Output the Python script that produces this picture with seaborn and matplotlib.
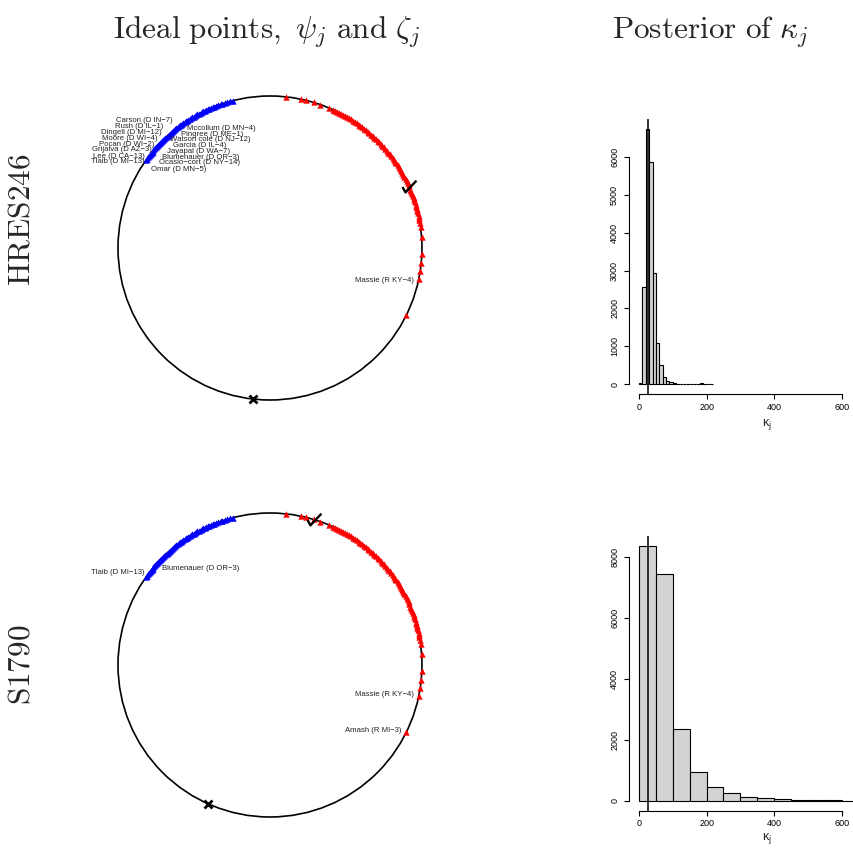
import numpy as np
import pandas as pd
import matplotlib
matplotlib.use("Agg")
import matplotlib.pyplot as plt
from matplotlib.path import Path
from matplotlib.patches import Circle
import seaborn as sns

# ---------------- data ----------------
# ideal point angles (degrees) on the unit circle
dem_angles = [104.0, 105.2, 106.5, 107.3, 108.4, 109.0, 110.1, 110.8, 111.5, 112.2,
              112.9, 113.5, 114.1, 114.8, 115.4, 116.0, 116.6, 117.2, 117.9, 118.5,
              119.0, 119.6, 120.2, 120.8, 121.3, 121.9, 122.5, 123.0, 123.6, 124.1,
              124.7, 125.2, 125.8, 126.3, 126.9, 127.4, 128.0, 128.5, 129.1, 129.6,
              130.2, 130.7, 131.3, 131.8, 132.4, 132.9, 133.5, 134.0, 134.6, 135.1,
              135.7, 136.2, 136.8, 137.3, 137.9, 138.4, 139.0, 139.5, 140.1, 140.6,
              141.2, 141.7, 142.3, 142.8, 143.4, 144.0, 144.5]
rep_angles = [84.0, 78.3, 76.2, 73.3, 70.6, 67.2, 65.5, 64.6, 63.8, 62.9, 62.0, 61.2,
              60.3, 59.5, 58.6, 57.8, 56.9, 56.0, 55.2, 54.3, 53.5, 52.6, 51.8, 50.9,
              50.0, 49.2, 48.3, 47.5, 46.6, 45.7, 44.9, 44.0, 43.2, 42.3, 41.5, 40.6,
              39.8, 38.9, 38.0, 37.2, 36.3, 35.5, 34.6, 33.8, 32.9, 32.0, 31.2, 30.3,
              29.5, 28.6, 27.8, 26.9, 26.0, 25.2, 24.3, 23.5, 22.6, 21.8, 20.9, 20.0,
              19.2, 18.3, 17.5, 16.6, 15.8, 14.9, 14.0, 13.2, 12.3, 11.5, 10.6, 9.5,
              8.0, 4.3, -2.3, -5.8, -8.6, -11.8, -26.2]

votes = ["HRES246", "S1790"]
yea_angle = [23.9, 73.3]     # psi (check mark)
nay_angle = [263.6, 245.8]   # zeta (cross)

# labels: (text, x, y, ha) in circle units
labels_top = [
    ("Carson (D IN\u22127)", -0.640, 0.837, "right"),
    ("Rush (D IL\u22121)", -0.702, 0.798, "right"),
    ("Dingell (D MI\u221212)", -0.712, 0.759, "right"),
    ("Moore (D WI\u22124)", -0.739, 0.719, "right"),
    ("Pocan (D WI\u22122)", -0.763, 0.684, "right"),
    ("Grijalva (D AZ\u22123)", -0.778, 0.645, "right"),
    ("Lee (D CA\u221213)", -0.822, 0.605, "right"),
    ("Tlaib (D MI\u221213)", -0.827, 0.570, "right"),
    ("Mccollum (D MN\u22124)", -0.544, 0.785, "left"),
    ("Pingree (D ME\u22121)", -0.586, 0.745, "left"),
    ("Watson cole (D NJ\u221212)", -0.658, 0.711, "left"),
    ("Garcia (D IL\u22124)", -0.640, 0.676, "left"),
    ("Jayapal (D WA\u22127)", -0.676, 0.636, "left"),
    ("Blumenauer (D OR\u22123)", -0.712, 0.597, "left"),
    ("Ocasio\u2212cort (D NY\u221214)", -0.728, 0.561, "left"),
    ("Omar (D MN\u22125)", -0.785, 0.518, "left"),
    ("Massie (R KY\u22124)", 0.947, -0.211, "right"),
]
labels_bot = [
    ("Tlaib (D MI\u221213)", -0.827, 0.607, "right"),
    ("Blumenauer (D OR\u22123)", -0.712, 0.636, "left"),
    ("Massie (R KY\u22124)", 0.947, -0.193, "right"),
    ("Amash (R MI\u22123)", 0.866, -0.434, "right"),
]

# posterior of kappa histograms
kappa_edges_top = list(range(0, 230, 10))
kappa_counts_top = [30, 2575, 6720, 5870, 2930, 1080, 510, 200, 75, 50,
                    30, 20, 12, 10, 15, 12, 20, 8, 25, 15, 10, 8]
kappa_edges_bot = list(range(0, 750, 50))
kappa_counts_bot = [8360, 7430, 2340, 950, 450, 240, 130, 75, 45, 30, 15, 10, 6, 3]
kappa_median = [25.7, 25.7]

# ---------------- figure ----------------
sns.set_style("white")
plt.rcParams["font.family"] = ["Liberation Sans", "DejaVu Sans"]
plt.rcParams["mathtext.fontset"] = "cm"

W, H = 854, 851
fig = plt.figure(figsize=(W / 100, H / 100), dpi=100)

def fx(px):
    return px / W

def fy(py):
    return 1 - py / H

L = 1.15
R = 152
centers = [(270, 248), (270, 665)]
check = Path([(-6.5, -0.5), (-3.8, -5.5), (6.5, 5.5)],
             [Path.MOVETO, Path.LINETO, Path.LINETO])

for i, (cx, cy) in enumerate(centers):
    half = L * R
    ax = fig.add_axes([fx(cx - half), fy(cy + half), 2 * half / W, 2 * half / H])
    ax.set_xlim(-L, L)
    ax.set_ylim(-L, L)
    ax.set_aspect("equal")
    ax.axis("off")
    ax.add_patch(Circle((0, 0), 1.0, fill=False, ec="black", lw=1.2, clip_on=False))
    dem = pd.DataFrame({"x": np.cos(np.radians(dem_angles)), "y": np.sin(np.radians(dem_angles))})
    rep = pd.DataFrame({"x": np.cos(np.radians(rep_angles)), "y": np.sin(np.radians(rep_angles))})
    sns.scatterplot(data=dem, x="x", y="y", ax=ax, marker="^", color="#0000FF",
                    s=21, linewidth=0, clip_on=False, zorder=3)
    sns.scatterplot(data=rep, x="x", y="y", ax=ax, marker="^", color="#FF0000",
                    s=21, linewidth=0, clip_on=False, zorder=3)
    ya = np.radians(yea_angle[i])
    ax.plot([np.cos(ya)], [np.sin(ya)], marker=check, ms=10, mfc="none", mec="black",
            mew=1.7, ls="none", clip_on=False, zorder=4)
    na = np.radians(nay_angle[i])
    ax.plot([np.cos(na)], [np.sin(na)], marker="x", ms=6, mec="black", mew=2,
            ls="none", clip_on=False, zorder=4)
    ax.set_xlabel("")
    ax.set_ylabel("")
    for (t, x, y, ha) in (labels_top if i == 0 else labels_bot):
        ax.text(x, y, t, ha=ha, va="center", fontsize=5.6, color="#222222")

# titles
fig.text(fx(266), fy(32), r"$\mathrm{Ideal\ points,}\ \psi_j\ \mathrm{and}\ \zeta_j$",
         ha="center", va="center", fontsize=22.5)
fig.text(fx(710), fy(32), r"$\mathrm{Posterior\ of}\ \kappa_j$",
         ha="center", va="center", fontsize=22.5)
fig.text(fx(22), fy(220), r"$\mathrm{HRES246}$", rotation=90, ha="center", va="center", fontsize=22.5)
fig.text(fx(22), fy(665), r"$\mathrm{S1790}$", rotation=90, ha="center", va="center", fontsize=22.5)

# histograms
hist_specs = [
    (kappa_edges_top, kappa_counts_top, 394.3, 119.2, (-263.6, 6989), [0, 1000, 2000, 3000, 4000, 5000, 6000], 425),
    (kappa_edges_bot, kappa_counts_bot, 810.7, 535.5, (-328, 8695), [0, 2000, 4000, 6000, 8000], 838),
]
for k, (edges, counts, pbot, ptop, ylim, yticks, lab_y) in enumerate(hist_specs):
    ax = fig.add_axes([fx(629), fy(pbot), 270 / W, (pbot - ptop) / H])
    mids = [(edges[j] + edges[j + 1]) / 2 for j in range(len(counts))]
    df = pd.DataFrame({"kappa": mids, "n": counts})
    sns.histplot(data=df, x="kappa", weights="n", bins=edges, ax=ax,
                 color="#D3D3D3", edgecolor="black", linewidth=0.8, alpha=1)
    ax.axvline(kappa_median[k], color="black", lw=1.1)
    ax.set_xlim(-29.6, 769.6)
    ax.set_ylim(*ylim)
    ax.set_xticks([0, 200, 400, 600])
    ax.set_yticks(yticks)
    ax.set_yticklabels([str(v) for v in yticks], rotation=90, va="center")
    for s in ["top", "right"]:
        ax.spines[s].set_visible(False)
    ax.spines["left"].set_bounds(yticks[0], yticks[-1])
    ax.spines["bottom"].set_bounds(0, 600)
    for s in ["left", "bottom"]:
        ax.spines[s].set_color("black")
        ax.spines[s].set_linewidth(0.8)
    ax.tick_params(axis="both", direction="out", length=3.6, width=0.8, labelsize=6.5,
                   colors="black", left=True, bottom=True)
    ax.tick_params(axis="x", pad=2.5)
    ax.tick_params(axis="y", pad=3.5)
    ax.set_xlabel("")
    ax.set_ylabel("")
    fig.text(fx(767), fy(lab_y), r"$\mathregular{\kappa_j}$", ha="center", va="center", fontsize=9)

fig.savefig("out.png", dpi=100)
